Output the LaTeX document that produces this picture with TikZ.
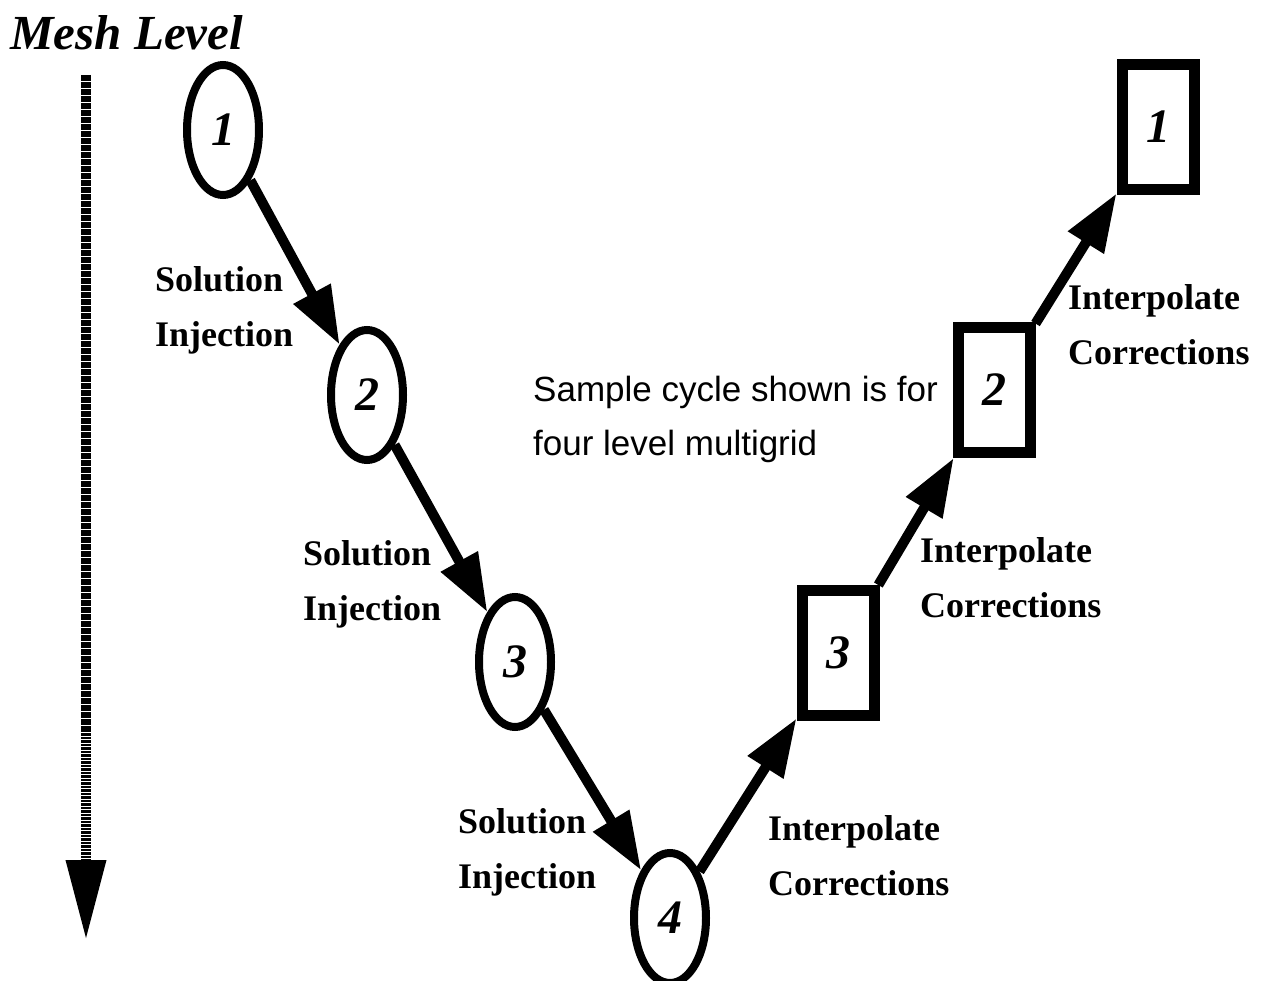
\documentclass[tikz,border=0pt]{standalone}
\usepackage{fontspec}
\setmainfont{Liberation Serif}
\newfontfamily\samplesans{Liberation Sans}
\usetikzlibrary{shapes.geometric,arrows.meta}
\begin{document}
\begin{tikzpicture}[x=1pt,y=-1pt,
  lev/.style={ellipse,draw,line width=8pt,minimum width=72pt,minimum height=130pt,inner sep=0pt,
     font=\fontsize{48}{48}\selectfont\bfseries\itshape},
  box/.style={rectangle,draw,line width=11pt,minimum width=72pt,minimum height=125pt,inner sep=0pt,
     font=\fontsize{48}{48}\selectfont\bfseries\itshape},
  flow/.style={line width=10pt,-{Triangle[length=58pt,width=40pt]}},
  lab/.style={anchor=west,align=left,inner sep=0pt,font=\fontsize{36}{55}\selectfont\bfseries}]
\useasboundingbox (0,0) rectangle (1270,981);
\node[anchor=west,inner sep=0pt,font=\fontsize{49}{49}\selectfont\bfseries\itshape] (title) at (10,33) {Mesh Level};
\coordinate (ms) at (86,75);
\coordinate (me) at (86,940);
\draw[line width=10pt,dash pattern=on 2.6pt off 0.9pt,-{Triangle[length=80pt,width=38pt,sep=0pt]}] (ms) -- (me);
\node[lev] (e1) at (223,130) {1};
\node[lev] (e2) at (367,395) {2};
\node[lev] (e3) at (515,662) {3};
\node[lev] (e4) at (670,918) {4};
\node[box] (r3) at (838,653) {3};
\node[box] (r2) at (994,390) {2};
\node[box] (r1) at (1158,127) {1};
\draw[flow] (e1) -- (e2);
\draw[flow] (e2) -- (e3);
\draw[flow] (e3) -- (e4);
\draw[flow] (e4) -- (r3);
\draw[flow] (r3) -- (r2);
\draw[flow] (r2) -- (r1);
\node[lab] (s1) at (155,310) {Solution\\Injection};
\node[lab] (s2) at (303,584) {Solution\\Injection};
\node[lab] (s3) at (458,852) {Solution\\Injection};
\node[lab] (i1) at (768,856) {Interpolate\\Corrections};
\node[lab] (i2) at (920,578) {Interpolate\\Corrections};
\node[lab] (i3) at (1068,325) {Interpolate\\Corrections};
\node[anchor=west,align=left,inner sep=0pt,font=\samplesans\fontsize{35}{54}\selectfont] (note) at (533,419) {Sample cycle shown is for\\four level multigrid};
\end{tikzpicture}
\end{document}
